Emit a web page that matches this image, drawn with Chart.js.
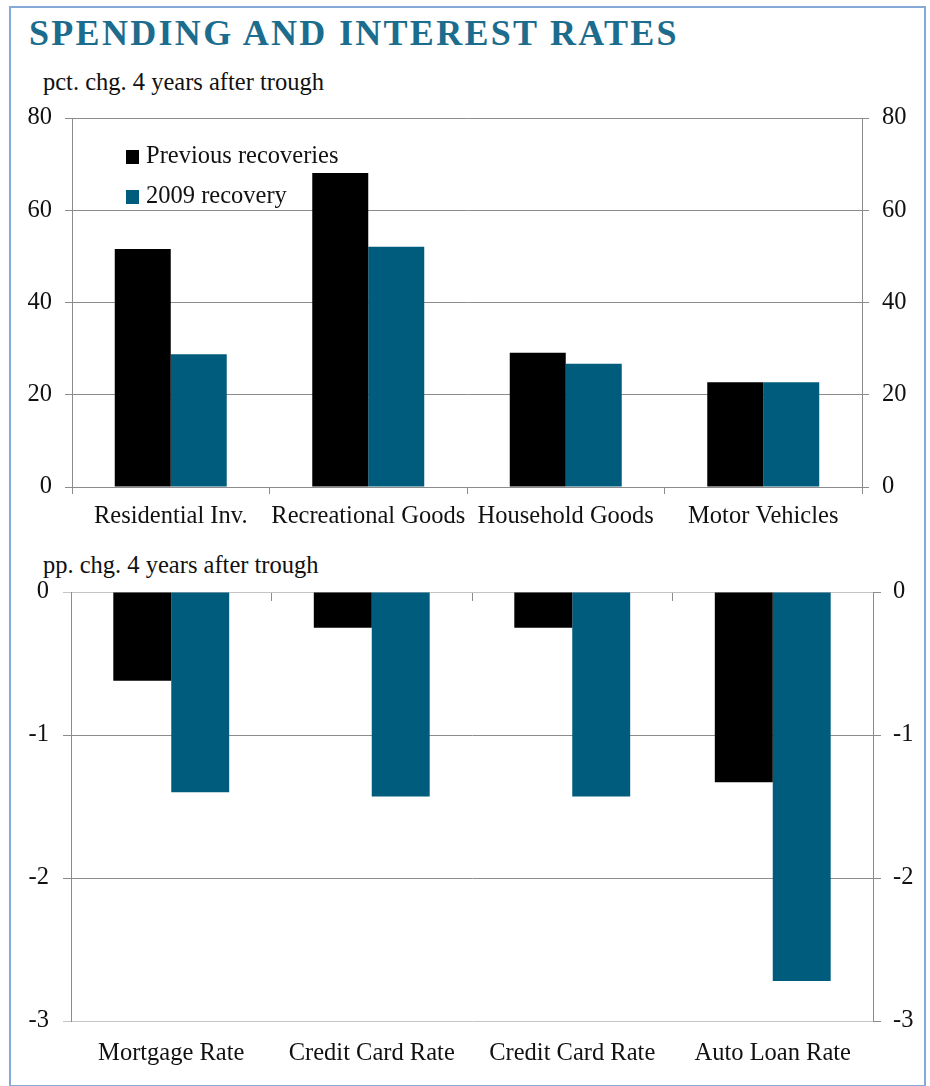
<!DOCTYPE html>
<html>
<head>
<meta charset="utf-8">
<title>Spending and Interest Rates</title>
<script src="https://cdn.jsdelivr.net/npm/chart.js@4.4.1/dist/chart.umd.min.js"></script>
<style>
  body { margin: 0; background: #fff; font-family: "Liberation Serif", serif; color: #111; }
  #page { position: relative; width: 930px; height: 1086px; overflow: hidden; }
  #frame { position: absolute; left: 9px; top: 6px; width: 913px; height: 1077px; border: 2px solid #86a9d8; }
  #title { position: absolute; left: 29px; top: 15px; font-size: 36px; line-height: 36px; font-weight: bold; color: #1b6c8d; letter-spacing: 2.3px; white-space: nowrap; }
  .sub { position: absolute; left: 43px; font-size: 24.5px; line-height: 24px; white-space: nowrap; }
  .legend { position: absolute; left: 126px; font-size: 24.5px; line-height: 24px; white-space: nowrap; }
  .legend span { display: inline-block; width: 13px; height: 14px; margin-right: 7px; vertical-align: -1px; }
  canvas { position: absolute; left: 0; }
</style>
</head>
<body>
<div id="page">
  <div id="frame"></div>
  <div id="title">SPENDING AND INTEREST RATES</div>
  <div class="sub" style="top:70px">pct. chg. 4 years after trough</div>
  <div class="sub" style="top:553px">pp. chg. 4 years after trough</div>
  <canvas id="spendChart" width="930" height="440" style="top:100px"></canvas>
  <canvas id="rateChart" width="930" height="540" style="top:540px"></canvas>
  <div class="legend" style="top:143px"><span style="background:#000"></span>Previous recoveries</div>
  <div class="legend" style="top:183px"><span style="background:#005c7c"></span>2009 recovery</div>
</div>
<script>
// spending: percent change 4 years after the trough
const spendCategories = ["Residential Inv.", "Recreational Goods", "Household Goods", "Motor Vehicles"];
const spendPrevious = [51.6, 68.1, 29.1, 22.7];
const spend2009 = [28.8, 52.1, 26.7, 22.7];
const spendTicks = [0, 20, 40, 60, 80];

// interest rates: percentage point change 4 years after the trough
const rateCategories = ["Mortgage Rate", "Credit Card Rate", "Credit Card Rate", "Auto Loan Rate"];
const ratePrevious = [-0.62, -0.25, -0.25, -1.33];
const rate2009 = [-1.40, -1.43, -1.43, -2.72];
const rateTicks = [0, -1, -2, -3];

const BLACK = "#000000";
const TEAL = "#005c7c";
const GRID = "#8c8c8c";

Chart.defaults.font.family = "Liberation Serif";
Chart.defaults.font.size = 24.5;
Chart.defaults.color = "#111";

// fixed axis sizes so both plot areas line up exactly
function fixWidth(w) {
  return function(scale) {
    scale.width = w;
    scale.paddingTop = 0;
    scale.paddingBottom = 0;
  };
}
function fixHeight(h) { return function(scale) { scale.height = h; }; }

function drawCharts() {
  // top chart
  new Chart(document.getElementById("spendChart"), {
    type: "bar",
    data: {
      labels: spendCategories,
      datasets: [
        { label: "Previous recoveries", data: spendPrevious, backgroundColor: BLACK, yAxisID: "y" },
        { label: "2009 recovery", data: spend2009, backgroundColor: TEAL, yAxisID: "y" }
      ]
    },
    options: {
      responsive: false,
      animation: false,
      categoryPercentage: 0.567,
      barPercentage: 1,
      layout: { padding: { top: 18, left: 0, right: 0, bottom: 0 } },
      plugins: { legend: { display: false }, tooltip: { enabled: false } },
      scales: {
        x: {
          afterFit: fixHeight(53),
          grid: { offset: true, drawOnChartArea: false, tickLength: 7, color: GRID },
          border: { color: GRID },
          ticks: { padding: 8, maxRotation: 0 }
        },
        y: {
          position: "left",
          min: 0, max: 80,
          afterFit: fixWidth(72),
          afterBuildTicks: function(scale) { scale.ticks = spendTicks.map(v => ({ value: v })); },
          grid: { color: GRID, tickLength: 7 },
          border: { color: GRID },
          ticks: { padding: 13 }
        },
        y1: {
          position: "right",
          min: 0, max: 80,
          afterFit: fixWidth(68),
          afterBuildTicks: function(scale) { scale.ticks = spendTicks.map(v => ({ value: v })); },
          grid: { drawOnChartArea: false, color: GRID, tickLength: 7 },
          border: { color: GRID },
          ticks: { padding: 13 }
        }
      }
    }
  });

  // bottom chart
  new Chart(document.getElementById("rateChart"), {
    type: "bar",
    data: {
      labels: rateCategories,
      datasets: [
        { label: "Previous recoveries", data: ratePrevious, backgroundColor: BLACK, yAxisID: "y" },
        { label: "2009 recovery", data: rate2009, backgroundColor: TEAL, yAxisID: "y" }
      ]
    },
    options: {
      responsive: false,
      animation: false,
      categoryPercentage: 0.578,
      barPercentage: 1,
      layout: { padding: { top: 52, left: 0, right: 0, bottom: 0 } },
      plugins: { legend: { display: false }, tooltip: { enabled: false } },
      scales: {
        x: {
          afterFit: fixHeight(59),
          grid: { display: false, drawTicks: false, tickLength: 0 },
          border: { display: false },
          ticks: { padding: 18, maxRotation: 0 }
        },
        x2: {
          type: "category",
          position: { y: 0 },
          offset: true,
          grid: { offset: true, drawOnChartArea: false, tickLength: 8, color: GRID },
          border: { color: "#c4c4c4" },
          ticks: { display: false }
        },
        y: {
          position: "left",
          min: -3, max: 0,
          afterFit: fixWidth(71),
          afterBuildTicks: function(scale) { scale.ticks = rateTicks.map(v => ({ value: v })); },
          grid: {
            tickLength: 8,
            color: function(c) { return (c.tick && (c.tick.value === 0 || c.tick.value === -3)) ? "#c4c4c4" : GRID; }
          },
          border: { color: GRID },
          ticks: { padding: 14 }
        },
        y1: {
          position: "right",
          min: -3, max: 0,
          afterFit: fixWidth(57),
          afterBuildTicks: function(scale) { scale.ticks = rateTicks.map(v => ({ value: v })); },
          grid: { drawOnChartArea: false, color: GRID, tickLength: 8 },
          border: { color: GRID },
          ticks: { padding: 12 }
        }
      }
    }
  });
}

// make sure the serif face is ready before the canvases draw text
document.fonts.load("24px 'Liberation Serif'").then(drawCharts, drawCharts);
</script>
</body>
</html>
